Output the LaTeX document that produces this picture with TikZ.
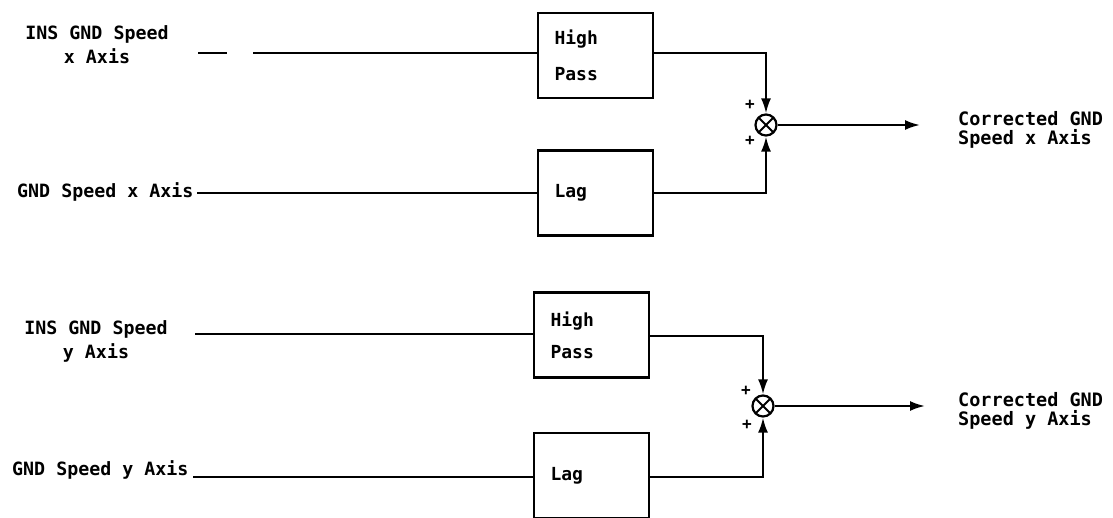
\documentclass[tikz,border=0pt]{standalone}
\usepackage{fontspec}
\setmainfont{DejaVu Sans Mono}
\usetikzlibrary{arrows.meta,calc}
\tikzset{
  sig/.style={line width=2.2pt},
  arr/.style={sig, -{Latex[length=15pt,width=10pt]}},
  blockbox/.style={draw, line width=2.2pt, minimum width=115pt, minimum height=85pt,
    text width=82pt, inner xsep=16pt, align=left, font=\fontsize{18}{20}\bfseries\selectfont},
  lbl/.style={font=\fontsize{18.3}{24}\bfseries\selectfont, inner sep=0pt},
  outlbl/.style={lbl, anchor=west, align=left, font=\fontsize{18.5}{19}\bfseries\selectfont},
  sumnode/.style={draw, circle, line width=2.2pt, minimum size=21pt, inner sep=0pt,
    path picture={\draw[line width=1.8pt] (path picture bounding box.south west) -- (path picture bounding box.north east)
      (path picture bounding box.north west) -- (path picture bounding box.south east);}},
  sgn/.style={font=\fontsize{16}{16}\bfseries\selectfont, inner sep=0pt}
}
\begin{document}
\begin{tikzpicture}[x=1pt,y=-1pt]
\useasboundingbox (0,0) rectangle (1113,517);

% ---------- x axis ----------
\node[lbl, align=center] (ins1) at (97,44.5) {INS GND Speed\\x Axis};
\node[lbl, anchor=west] (gnd1) at (17,192) {GND Speed x Axis};
\node[blockbox] (hp1) at (595.5,55.5) {High\\[16pt]Pass};
\node[blockbox] (lag1) at (595.5,193) {Lag};
\node[sumnode] (sum1) at (766,125) {};
\node[sgn] (p1a) at (750,105) {+};
\node[sgn] (p1b) at (750,141) {+};
\node[outlbl] (out1) at (958,130) {Corrected GND\\Speed x Axis};

\coordinate (a1) at (198,53);
\draw[sig, dash pattern=on 29pt off 26pt on 400pt] (a1) -- (a1 -| hp1.west);
\coordinate (b1) at (197,193);
\draw[sig] (b1) -- (b1 -| lag1.west);
\draw[arr] (hp1.east |- a1) -| (sum1.north);
\draw[arr] (lag1.east |- b1) -| (sum1.south);
\draw[arr] (sum1.east) -- ([xshift=-38pt]out1.west |- sum1.east);

% ---------- y axis ----------
\node[lbl, align=center] (ins2) at (96,341.5) {INS GND Speed\\y Axis};
\node[lbl, anchor=west] (gnd2) at (12,470) {GND Speed y Axis};
\node[blockbox] (hp2) at (591.5,335) {High\\[12pt]Pass};
\node[blockbox] (lag2) at (591.5,475.5) {Lag};
\node[sumnode] (sum2) at (763,406) {};
\node[sgn] (p2a) at (746,391) {+};
\node[sgn] (p2b) at (747,425) {+};
\node[outlbl] (out2) at (958,411) {Corrected GND\\Speed y Axis};

\coordinate (a2) at (195,334);
\draw[sig] (a2) -- (a2 -| hp2.west);
\coordinate (b2) at (193,477);
\draw[sig] (b2) -- (b2 -| lag2.west);
\draw[arr] ($(hp2.east)+(0,1)$) -| (sum2.north);
\draw[arr] (lag2.east |- b2) -| (sum2.south);
\draw[arr] (sum2.east) -- ([xshift=-33pt]out2.west |- sum2.east);
\end{tikzpicture}
\end{document}
